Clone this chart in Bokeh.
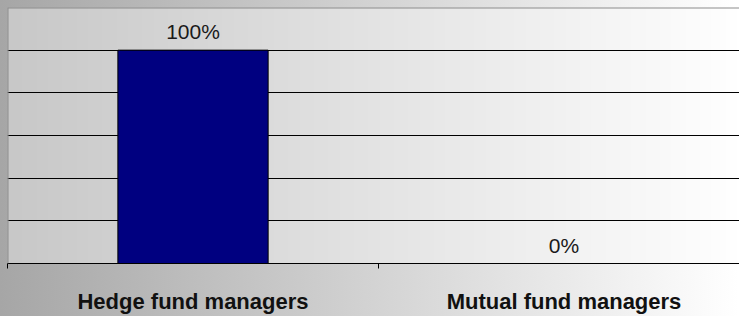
import numpy as np
from bokeh.plotting import figure
from bokeh.models import (Range1d, FixedTicker, Grid, Span, GlobalInlineStyleSheet)
from bokeh.core.properties import value
from bokeh.embed import file_html
from bokeh.resources import INLINE

# ---- data ----
categories = ["Hedge fund managers", "Mutual fund managers"]
shares = [100, 0]
share_labels = ["100%", "0%"]
grid_ticks = [20, 40, 60, 80, 100]

xs = [i + 0.5 for i in range(len(categories))]
boundaries = [float(i) for i in range(len(categories) + 1)]

page_css = GlobalInlineStyleSheet(css="""
html, body { margin: 0; padding: 0; }
body { background: linear-gradient(to right, #a6a6a6 0%, #ffffff 100%); }
""")

p = figure(width=739, height=316,
           x_range=Range1d(0, 1.973), y_range=Range1d(0, 120),
           output_backend="svg", toolbar_location=None,
           y_axis_location=None, x_axis_location="below",
           min_border_left=7, min_border_top=7, min_border_right=0,
           min_border_bottom=53,
           border_fill_alpha=0, background_fill_alpha=0,
           outline_line_color=None)
p.stylesheets = [page_css]

# plot-area gradient background
grad = np.zeros((1, 256), dtype=np.uint32)
view = grad.view(dtype=np.uint8).reshape((1, 256, 4))
g = np.linspace(200, 255, 256).astype(np.uint8)
view[0, :, 0] = g
view[0, :, 1] = g
view[0, :, 2] = g
view[0, :, 3] = 255
p.image_rgba(image=[grad], x=0, y=0, dw=p.x_range.end, dh=p.y_range.end, level="image")

p.grid.visible = False
p.add_layout(Grid(dimension=1, ticker=FixedTicker(ticks=grid_ticks),
                  grid_line_color="black", grid_line_width=1), "center")

p.add_layout(Span(location=p.y_range.end, dimension="width",
                  line_color="#8c8c8c", line_width=2))
p.add_layout(Span(location=p.x_range.start, dimension="height",
                  line_color="#8c8c8c", line_width=2))

p.vbar(x=xs, top=shares, bottom=0, width=0.405,
       fill_color="#000080", line_color="black", line_width=1)

p.text(x=xs, y=shares, text=share_labels, text_align="center",
       text_baseline="bottom", y_offset=-7,
       text_font=value("Liberation Sans"), text_font_size="21px",
       text_color="#1a1a1a")

ax = p.xaxis[0]
ax.ticker = FixedTicker(ticks=xs, minor_ticks=boundaries)
ax.major_label_overrides = {x: c for x, c in zip(xs, categories)}
ax.axis_line_color = "black"
ax.major_tick_line_color = None
ax.major_tick_out = 0
ax.major_tick_in = 0
ax.minor_tick_line_color = "black"
ax.minor_tick_out = 5
ax.minor_tick_in = 0
ax.major_label_standoff = 20
ax.major_label_text_font = "Liberation Sans"
ax.major_label_text_font_style = "bold"
ax.major_label_text_font_size = "22px"
ax.major_label_text_color = "#111111"

open("out.html", "w").write(file_html(p, INLINE))
